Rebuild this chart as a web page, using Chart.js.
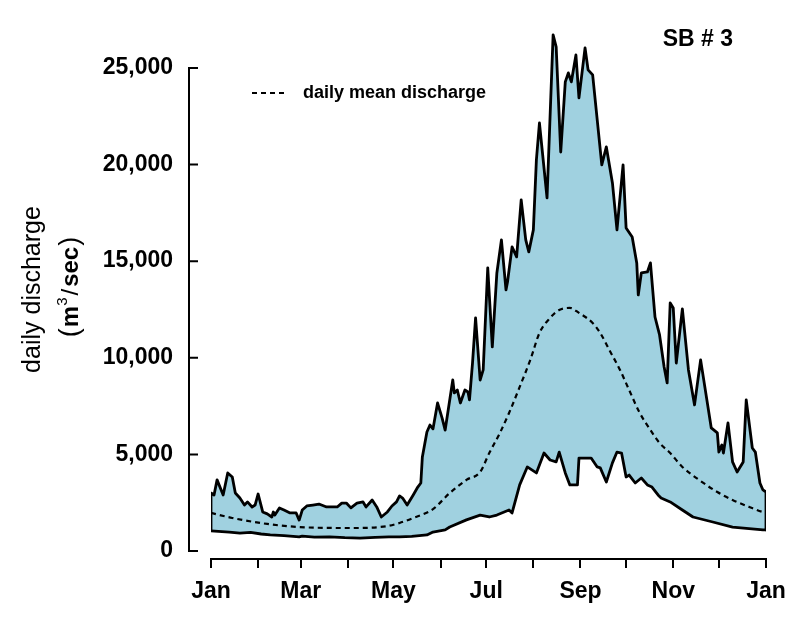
<!DOCTYPE html>
<html>
<head>
<meta charset="utf-8">
<script src="https://cdn.jsdelivr.net/npm/chart.js@4.4.1/dist/chart.umd.min.js"></script>
<style>
html,body{margin:0;padding:0;background:#fff;}
#wrap{width:800px;height:617px;}
</style>
</head>
<body>
<div id="wrap"><canvas id="c" width="800" height="617"></canvas></div>
<script>
// ---- data (day of year, discharge in m3/sec) ----
const upperDays = [0,2,4,8,11,14,16,19,22,24,27,29,31,34,37,40,41,42,45,48,52,56,58,60,63,67,71,76,83,86,89,92,96,100,102,106,109,112,116,119,122,124,126,129,133,136,138,139,142,144,146,149,152,154,156,159,160,162,164,167,169,170,172,174,177,179,182,185,188,191,194,195,198,201,204,207,209,212,214,216,221,225,227,230,233,235,237,240,242,246,248,251,257,260,264,267,271,273,277,280,281,283,287,289,292,295,298,300,302,304,306,310,314,318,322,329,333,334,336,337,340,343,346,350,352,356,358,361,363,365];
const upperValues = [3000,2900,3680,2900,4040,3830,3000,2740,2380,2540,2280,2380,2950,2020,1920,1760,2020,1860,2230,2120,1970,1970,1600,2120,2330,2380,2430,2280,2280,2480,2480,2230,2480,2540,2280,2640,2280,1760,2020,2330,2540,2850,2740,2380,2900,3310,3520,4870,6160,6520,6320,7660,6880,6260,7300,8850,8180,8330,7660,8330,8230,7820,9730,12060,8850,9370,14650,10560,14390,16100,13510,13920,15740,15220,18170,16100,15480,16620,20240,22150,18270,26710,26090,20650,24280,24740,24280,25670,23450,26040,24900,24640,19980,20910,19050,16620,19980,16720,16250,14910,13250,14390,14440,14910,12110,11180,9520,8700,12840,12580,9730,12530,9370,7560,9890,6370,6110,5120,5490,5070,6630,4610,4090,4610,7820,5330,5120,3520,3160,3050];

const lowerDays = [0,12,19,26,33,39,48,58,60,68,78,88,98,108,117,124,132,142,146,154,157,168,177,183,188,196,198,203,208,214,219,223,227,229,233,236,241,242,250,254,256,260,264,267,270,273,275,279,283,287,290,294,296,302,310,317,330,343,363,365];
const lowerValues = [1040,980,930,960,880,830,800,730,770,720,730,690,670,700,730,730,760,830,980,1090,1240,1610,1860,1760,1860,2120,1970,3420,4350,4040,5070,4710,4610,5120,4040,3420,3420,4810,4810,4350,4300,3570,4560,5120,5070,3830,3930,3520,3780,3420,3310,2900,2740,2540,2120,1760,1500,1240,1090,1090];

const meanDays = [0,14,37,58,91,116,124,133,146,157,168,177,183,190,196,203,210,216,223,229,236,242,251,256,262,269,275,282,289,295,302,310,321,333,343,354,363,365];
const meanValues = [1970,1710,1400,1240,1190,1290,1450,1710,2170,3000,3680,4090,5070,6110,7140,8490,9890,11280,12060,12470,12580,12320,11800,11280,10400,9370,8330,7140,6260,5590,5070,4350,3680,3050,2640,2280,2020,2000];

const monthTickDays = [0,31,59,90,120,151,181,212,243,273,304,334,365];
const monthTickLabels = ['Jan','','Mar','','May','','Jul','','Sep','','Nov','','Jan'];
const yTickValues = [0,5000,10000,15000,20000,25000];

const stationLabel = 'SB # 3';
const yTitle = 'daily discharge';
const meanLabel = 'daily mean discharge';

// ---- styling ----
const FAMILY = "'Liberation Sans', Arial, Helvetica, sans-serif";
const FILL = 'rgb(160, 209, 224)';
Chart.defaults.font.family = FAMILY;
Chart.defaults.color = '#000';

const toPts = (xs, ys) => xs.map((d, i) => ({x: d, y: ys[i]}));

// upper envelope closed down to the lower envelope at both ends
const upperPts = [{x: lowerDays[0], y: lowerValues[0]}]
  .concat(toPts(upperDays, upperValues))
  .concat([{x: lowerDays[lowerDays.length - 1], y: lowerValues[lowerValues.length - 1]}]);

const extras = {
  id: 'extras',
  afterLayout(chart) {
    const lg = chart.legend;
    if (lg) {
      const w = lg.width, h = lg.height;
      lg.left = chart.chartArea.left; lg.top = chart.chartArea.top;
      lg.right = lg.left + w; lg.bottom = lg.top + h;
    }
  },
  afterDraw(chart) {
    const ctx = chart.ctx;
    const ys = chart.scales.y;
    const area = chart.chartArea;
    // detached y axis with inward ticks
    const ax = area.left - 22;
    ctx.save();
    ctx.strokeStyle = '#000';
    ctx.lineWidth = 2;
    ctx.lineCap = 'square';
    ctx.beginPath();
    ctx.moveTo(ax, ys.getPixelForValue(yTickValues[0]));
    ctx.lineTo(ax, ys.getPixelForValue(yTickValues[yTickValues.length - 1]));
    yTickValues.forEach(v => {
      const py = ys.getPixelForValue(v);
      ctx.moveTo(ax, py);
      ctx.lineTo(ax + 8, py);
    });
    ctx.stroke();
    ctx.restore();

    // station label
    ctx.save();
    ctx.fillStyle = '#000';
    ctx.font = 'bold 23px ' + FAMILY;
    ctx.textAlign = 'right';
    ctx.textBaseline = 'middle';
    ctx.fillText(stationLabel, 733, 40);
    ctx.restore();

    // unit line of the y title: (m^3 / sec)
    const parts = [
      {t: '(', f: 'normal 27px ' + FAMILY, dy: 0, gap: 1},
      {t: 'm', f: 'bold 24px ' + FAMILY, dy: 0, gap: 0},
      {t: '3', f: 'normal 15px ' + FAMILY, dy: -11, gap: 2},
      {t: '/', f: 'normal 24px ' + FAMILY, dy: 0, gap: 2},
      {t: 'sec', f: 'bold 24px ' + FAMILY, dy: 0, gap: 1},
      {t: ')', f: 'normal 27px ' + FAMILY, dy: 0, gap: 0}
    ];
    ctx.save();
    ctx.translate(71, 287);
    ctx.rotate(-Math.PI / 2);
    ctx.fillStyle = '#000';
    ctx.textBaseline = 'alphabetic';
    ctx.textAlign = 'left';
    let total = 0;
    parts.forEach(p => { ctx.font = p.f; p.w = ctx.measureText(p.t).width; total += p.w + p.gap; });
    let x = -total / 2;
    parts.forEach(p => { ctx.font = p.f; ctx.fillText(p.t, x, 7 + p.dy); x += p.w + p.gap; });
    ctx.restore();
  }
};

new Chart(document.getElementById('c'), {
  type: 'line',
  data: {
    datasets: [
      {
        label: 'maximum',
        data: upperPts,
        borderColor: '#000',
        borderWidth: 2.8,
        backgroundColor: FILL,
        fill: '+1',
        pointRadius: 0,
        tension: 0,
        borderJoinStyle: 'round',
        order: 2
      },
      {
        label: 'minimum',
        data: toPts(lowerDays, lowerValues),
        borderColor: '#000',
        borderWidth: 2.8,
        fill: false,
        pointRadius: 0,
        tension: 0,
        borderJoinStyle: 'round',
        order: 1
      },
      {
        label: meanLabel,
        data: toPts(meanDays, meanValues),
        borderColor: '#000',
        borderWidth: 2.2,
        borderDash: [5, 4],
        fill: false,
        pointRadius: 0,
        cubicInterpolationMode: 'monotone',
        order: 0
      }
    ]
  },
  options: {
    responsive: false,
    animation: false,
    devicePixelRatio: 1,
    layout: {padding: {top: 20, right: 34, bottom: 0, left: 0}},
    scales: {
      x: {
        type: 'linear',
        min: 0,
        max: 365,
        afterBuildTicks: s => { s.ticks = monthTickDays.map(v => ({value: v})); },
        afterFit: s => { s.height = 58; s.paddingLeft = 0; s.paddingRight = 0; },
        ticks: {
          autoSkip: false,
          maxRotation: 0,
          padding: 10,
          color: '#000',
          font: {size: 23, weight: 'bold'},
          callback: (v, i) => monthTickLabels[i]
        },
        grid: {display: true, drawOnChartArea: false, drawTicks: true, tickLength: 9, color: '#000', lineWidth: 2},
        border: {display: true, color: '#000', width: 2}
      },
      y: {
        type: 'linear',
        min: -414,
        max: 27480,
        afterBuildTicks: s => { s.ticks = yTickValues.map(v => ({value: v})); },
        afterFit: s => { s.width = 211; s.paddingTop = 0; s.paddingBottom = 0; },
        ticks: {
          padding: 38,
          color: '#000',
          font: {size: 23, weight: 'bold'},
          callback: v => v.toLocaleString('en-US')
        },
        grid: {display: false, drawTicks: false},
        border: {display: false},
        title: {
          display: true,
          text: yTitle,
          color: '#000',
          font: {size: 25, weight: 'normal'},
          padding: {top: 18, bottom: 0}
        }
      }
    },
    plugins: {
      filler: {drawTime: 'beforeDatasetsDraw'},
      tooltip: {enabled: false},
      legend: {
        position: 'chartArea',
        align: 'start',
        title: {display: true, text: '', font: {size: 20, lineHeight: 1.15}, padding: 0},
        labels: {
          usePointStyle: true,
          pointStyle: 'line',
          pointStyleWidth: 42,
          padding: 41,
          color: '#000',
          font: {size: 18, weight: 'bold'},
          generateLabels: chart => Chart.defaults.plugins.legend.labels.generateLabels(chart)
            .filter(it => it.datasetIndex === 2)
            .map(it => Object.assign(it, {lineDash: [5, 4, 5, 4, 5, 4, 5, 30], lineWidth: 2}))
        }
      }
    }
  },
  plugins: [extras]
});
</script>
</body>
</html>
